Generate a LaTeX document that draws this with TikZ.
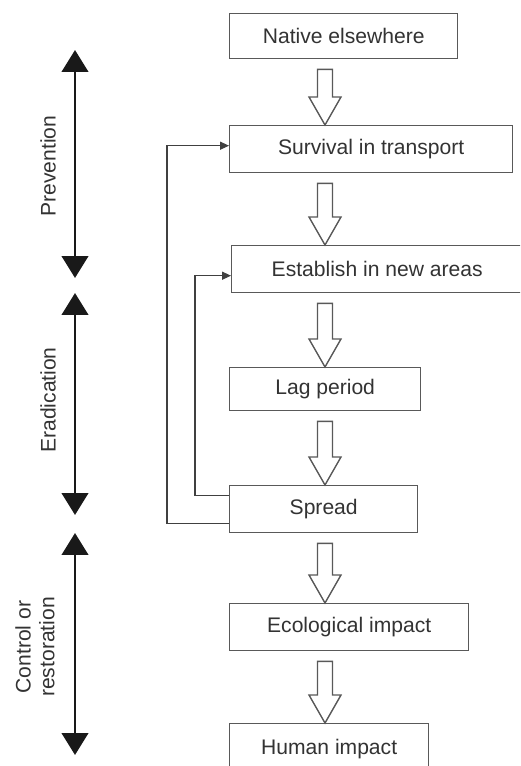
\documentclass[tikz,border=0pt]{standalone}
\usepackage{fontspec}
\setmainfont{Liberation Sans}
\usetikzlibrary{arrows.meta, calc}

% hollow block arrow from one stage box down to the next
\newcommand{\stagearrow}[2]{%
  \draw[hollow] ($(#1.south -| ax)+(-7.5,10)$) -- ($(#2.north -| ax)+(-7.5,-28)$)
    -- ($(#2.north -| ax)+(-16,-28)$) -- (#2.north -| ax)
    -- ($(#2.north -| ax)+(16,-28)$) -- ($(#2.north -| ax)+(7.5,-28)$)
    -- ($(#1.south -| ax)+(7.5,10)$) -- cycle;}

\begin{document}
\begin{tikzpicture}[x=0.02cm, y=-0.02cm,
    stage/.style={draw=black!65, line width=0.8pt, fill=white, inner sep=0pt,
                  anchor=north west, minimum height=0.94cm, text=black!80,
                  font=\fontsize{12}{14}\selectfont},
    hollow/.style={draw=black!65, line width=0.8pt, fill=white, line join=miter},
    feedback/.style={draw=black!75, line width=0.6pt,
                     -{Triangle[length=5pt, width=4.5pt]}},
    phase/.style={draw=black!90, line width=1.7pt,
                  {Triangle[length=12.5pt, width=15pt]}-{Triangle[length=12.5pt, width=15pt]}},
    phaselabel/.style={rotate=90, text=black!80, align=center,
                       font=\fontsize{12}{13.5}\selectfont}]
  \clip (0,0) rectangle (520,766);
  \coordinate (ax) at (325,0);

  % stages
  \node[stage, minimum width=4.56cm, minimum height=0.9cm] (native) at (229,13) {Native elsewhere};
  \node[stage, minimum width=5.66cm] (survival) at (229,125) {Survival in transport};
  \node[stage, minimum width=5.82cm] (establish) at (231,245) {Establish in new areas};
  \node[stage, minimum width=3.82cm, minimum height=0.86cm] (lag) at (229,367) {Lag period};
  \node[stage, minimum width=3.76cm] (spread) at (229,485) {Spread};
  \node[stage, minimum width=4.78cm] (ecological) at (229,603) {Ecological impact};
  \node[stage, minimum width=3.98cm, minimum height=1cm] (human) at (229,723) {Human impact};

  \stagearrow{native}{survival}
  \stagearrow{survival}{establish}
  \stagearrow{establish}{lag}
  \stagearrow{lag}{spread}
  \stagearrow{spread}{ecological}
  \stagearrow{ecological}{human}

  % spread feeds back into earlier stages
  \coordinate (outerx) at (167,0);
  \coordinate (innerx) at (195,0);
  \draw[feedback] ($(spread.west)+(0,14.5)$) -- ($(spread.west -| outerx)+(0,14.5)$)
    -- ($(survival.west -| outerx)+(0,-3.5)$) -- ($(survival.west)+(0,-3.5)$);
  \draw[feedback] ($(spread.west)+(0,-13.5)$) -- ($(spread.west -| innerx)+(0,-13.5)$)
    -- ($(establish.west -| innerx)+(0,6.5)$) -- ($(establish.west)+(0,6.5)$);

  % management phases
  \coordinate (prevtop) at (75,50);
  \coordinate (prevbot) at (75,278);
  \coordinate (eradtop) at (75,293);
  \coordinate (eradbot) at (75,515);
  \coordinate (ctrltop) at (75,533);
  \coordinate (ctrlbot) at (75,755);
  \draw[phase] (prevtop) -- (prevbot);
  \draw[phase] (eradtop) -- (eradbot);
  \draw[phase] (ctrltop) -- (ctrlbot);
  \node[phaselabel] (prevention) at (48,166) {Prevention};
  \node[phaselabel] (eradication) at (48,400) {Eradication};
  \node[phaselabel] (control) at (35,647) {Control or\\restoration};
\end{tikzpicture}
\end{document}
